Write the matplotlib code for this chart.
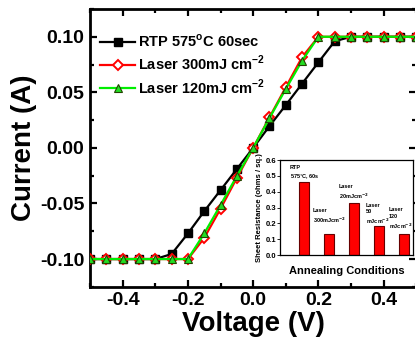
import numpy as np
import matplotlib
matplotlib.use("Agg")
import matplotlib.pyplot as plt
from matplotlib.ticker import MultipleLocator

plt.rcParams['font.family'] = ['Liberation Sans', 'DejaVu Sans']
plt.rcParams['font.weight'] = 'bold'

# I-V data
voltage = np.round(np.arange(-0.5, 0.501, 0.05), 2)
i_rtp = [-0.1, -0.1, -0.1, -0.1, -0.1, -0.0955, -0.077, -0.057, -0.038, -0.019, 0.0,
         0.0196, 0.0385, 0.0578, 0.077, 0.096, 0.1, 0.1, 0.1, 0.1, 0.1]
i_300 = [-0.1, -0.1, -0.1, -0.1, -0.1, -0.1, -0.1, -0.081, -0.0547, -0.027, 0.0,
         0.0274, 0.0545, 0.0816, 0.1, 0.1, 0.1, 0.1, 0.1, 0.1, 0.1]
i_120 = [-0.1, -0.1, -0.1, -0.1, -0.1, -0.1, -0.1, -0.077, -0.0514, -0.0253, 0.0,
         0.0268, 0.053, 0.0785, 0.1, 0.1, 0.1, 0.1, 0.1, 0.1, 0.1]

# inset: sheet resistance
conditions = ["RTP\n575$^{\\circ}$C, 60s", "Laser\n300mJcm$^{-2}$", "Laser\n20mJcm$^{-2}$",
              "Laser\n50\nmJcm$^{-2}$", "Laser\n120\nmJcm$^{-2}$"]
sheet_res = [0.46, 0.13, 0.33, 0.185, 0.13]

fig = plt.figure(figsize=(4.15, 3.46), dpi=100)
ax = fig.add_axes([0.217, 0.171, 0.786, 0.803])

ax.plot(voltage, i_rtp, '-s', color='black', lw=1.6, ms=6, mfc='black', mec='black',
        label='RTP 575$^{\\mathregular{o}}$C 60sec', zorder=3)
ax.plot(voltage, i_300, '-D', color='red', lw=1.6, ms=5, mfc='white', mec='red', mew=1.4,
        label='Laser 300mJ cm$^{\\mathregular{-2}}$', zorder=4)
ax.plot(voltage, i_120, '-^', color='#00ee00', lw=1.6, ms=5.5, mfc='#22dd22', mec='#224400',
        mew=0.8, label='Laser 120mJ cm$^{\\mathregular{-2}}$', zorder=5)

ax.set_xlim(-0.5, 0.5)
ax.set_ylim(-0.125, 0.125)
ax.xaxis.set_minor_locator(MultipleLocator(0.1))
ax.yaxis.set_minor_locator(MultipleLocator(0.025))
ax.set_xticks([-0.4, -0.2, 0.0, 0.2, 0.4])
ax.set_xticklabels(['-0.4', '-0.2', '0.0', '0.2', '0.4'])
ax.set_yticks([-0.10, -0.05, 0.0, 0.05, 0.10])
ax.set_yticklabels(['-0.10', '-0.05', '0.00', '0.05', '0.10'])
ax.tick_params(which='both', direction='in', top=True, right=True, width=1.6)
ax.tick_params(which='major', length=5, labelsize=14, pad=4)
ax.tick_params(which='minor', length=3)
for s in ax.spines.values():
    s.set_linewidth(2.0)

ax.set_xlabel('Voltage (V)', fontsize=20, fontweight='bold', labelpad=1)
ax.set_ylabel('Current (A)', fontsize=20, fontweight='bold', labelpad=2)

ax.legend(loc='upper left', bbox_to_anchor=(0.0, 0.95), frameon=False, fontsize=10.5,
          handlelength=2.4, handletextpad=0.2, labelspacing=0.28, borderaxespad=0.3)

# inset
ins = fig.add_axes([0.675, 0.263, 0.32, 0.274])
pos = np.arange(len(sheet_res))
ins.bar(pos, sheet_res, width=0.4, color='#ff0000', edgecolor='#660000', linewidth=0.8)
ins.set_xlim(-0.95, 4.35)
ins.set_ylim(0, 0.6)
ins.set_xticks([])
ins.set_yticks(np.arange(0, 0.61, 0.1))
ins.set_yticklabels(['%.1f' % v for v in np.arange(0, 0.61, 0.1)])
ins.tick_params(axis='y', labelsize=5.5, length=2, width=0.6, pad=1)
for s in ins.spines.values():
    s.set_linewidth(0.9)
ins.set_ylabel('Sheet Resistance (ohms / sq.)', fontsize=5.5, fontweight='bold', labelpad=2)
ins.set_xlabel('Annealing Conditions', fontsize=8, fontweight='bold', labelpad=8)

# label positions: (x offset from bar, bottom of text in data units)
label_pos = [(-0.56, 0.46), (-0.64, 0.19), (-0.6, 0.34), (-0.52, 0.185), (-0.6, 0.155)]
for i, (txt, (dx, y0)) in enumerate(zip(conditions, label_pos)):
    ins.text(pos[i] + dx, y0, txt, fontsize=4, fontweight='bold', ha='left', va='bottom',
             linespacing=1.35)

fig.savefig('out.png', dpi=100)
